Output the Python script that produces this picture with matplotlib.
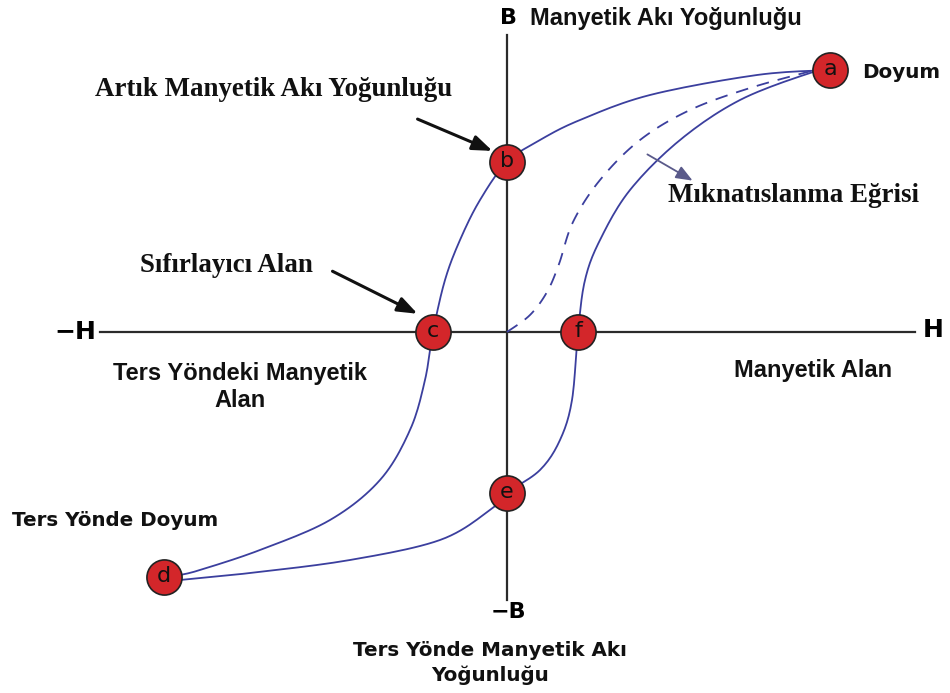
import numpy as np
import matplotlib
matplotlib.use("Agg")
import matplotlib.pyplot as plt

# ---- data (H, B) in diagram units, origin at axis crossing ----
point_labels = ["a", "b", "c", "d", "e", "f"]
point_h = [323, 0, -74, -343, 0, 71]
point_b = [262, 170, 0, -245, -161, 0]

upper_h = [323, 250, 143, 73, 33, 0, -27, -47, -62, -74, -82, -97, -127, -177, -247, -307, -327]
upper_b = [262, 257, 237, 212, 192, 170, 132, 92, 52, 0, -48, -98, -148, -188, -218, -238, -243]

lower_h = [-327, -257, -157, -67, -17, 0, 33, 53, 65, 71, 78, 93, 123, 173, 233, 303, 323]
lower_b = [-248, -241, -228, -208, -178, -161, -138, -108, -68, 0, 52, 92, 142, 192, 232, 259, 262]

virgin_h = [0, 23, 40, 52, 66, 93, 133, 183, 243, 308]
virgin_b = [0, 17, 40, 68, 110, 152, 192, 222, 244, 262]

h_axis = [-407, 408]
b_axis = [-268, 297]

curve_color = "#3b3f9e"
axis_color = "#2b2b2b"
marker_color = "#d3262a"


def smooth(xs, ys, n=12):
    p = np.column_stack([xs, ys]).astype(float)
    p = np.vstack([p[0], p, p[-1]])
    out = []
    for i in range(1, len(p) - 2):
        p0, p1, p2, p3 = p[i - 1], p[i], p[i + 1], p[i + 2]
        for t in np.linspace(0, 1, n, endpoint=False):
            t2, t3 = t * t, t * t * t
            out.append(0.5 * ((2 * p1) + (-p0 + p2) * t + (2 * p0 - 5 * p1 + 4 * p2 - p3) * t2
                              + (-p0 + 3 * p1 - 3 * p2 + p3) * t3))
    out.append(p[-2])
    out = np.array(out)
    return out[:, 0], out[:, 1]


plt.rcParams['font.family'] = ['Liberation Sans', 'DejaVu Sans']

fig = plt.figure(figsize=(9.5, 6.93), dpi=100)
ax = fig.add_axes([0, 0, 1, 1])
ax.set_xlim(-507, 443)
ax.set_ylim(-361, 332)
ax.axis("off")

# axes
ax.plot(h_axis, [0, 0], color=axis_color, lw=1.6, zorder=1)
ax.plot([0, 0], b_axis, color=axis_color, lw=1.6, zorder=1)

# curves
ux, uy = smooth(upper_h, upper_b)
ax.plot(ux, uy, color=curve_color, lw=1.3, zorder=2)
lx, ly = smooth(lower_h, lower_b)
ax.plot(lx, ly, color=curve_color, lw=1.3, zorder=2)
vx, vy = smooth(virgin_h, virgin_b)
ax.plot(vx, vy, color=curve_color, lw=1.3, ls=(0, (7, 5)), zorder=2)

# markers
ax.scatter(point_h, point_b, s=640, color=marker_color, edgecolors="#222222", linewidths=1.2, zorder=4)
for lab, h, b in zip(point_labels, point_h, point_b):
    ax.text(h, b + 1, lab, ha="center", va="center", fontsize=16, color="#111111",
            family=["DejaVu Sans"], zorder=5)

narrow_bold = dict(fontweight="bold", fontsize=17, color="#111111", family=["Liberation Sans", "DejaVu Sans"])
wide_bold = dict(fontweight="bold", fontsize=14.3, color="#111111", family=["DejaVu Sans"])
serif_bold = dict(fontweight="bold", fontsize=19.4, color="#111111", family=["Liberation Serif", "DejaVu Serif"])

# axis end labels
ax.text(1, 314, "B", ha="center", va="center", fontsize=16, fontweight="bold", family=["DejaVu Sans"])
ax.text(23, 314, "Manyetik Akı Yoğunluğu", ha="left", va="center", **narrow_bold)
ax.text(1, -280, "−B", ha="center", va="center", fontsize=16, fontweight="bold", family=["DejaVu Sans"])
ax.text(-432, 0, "−H", ha="center", va="center", fontsize=18, fontweight="bold", family=["DejaVu Sans"])
ax.text(426, 2, "H", ha="center", va="center", fontsize=18, fontweight="bold", family=["DejaVu Sans"])

ax.text(355, 260, "Doyum", ha="left", va="center", **wide_bold)
ax.text(306, -38, "Manyetik Alan", ha="center", va="center", **narrow_bold)
ax.text(-267, -55, "Ters Yöndeki Manyetik\nAlan", ha="center", va="center", linespacing=1.2, **narrow_bold)
ax.text(-495, -188, "Ters Yönde Doyum", ha="left", va="center", **wide_bold)
ax.text(-17, -331, "Ters Yönde Manyetik Akı\nYoğunluğu", ha="center", va="center", linespacing=1.3, **wide_bold)

ax.text(-233, 242, "Artık Manyetik Akı Yoğunluğu", ha="center", va="center", **serif_bold)
ax.text(-367, 67, "Sıfırlayıcı Alan", ha="left", va="center", **serif_bold)
ax.text(161, 137, "Mıknatıslanma Eğrisi", ha="left", va="center", **serif_bold)

# arrows
ax.annotate("", xy=(-12, 180), xytext=(-92, 214),
            arrowprops=dict(arrowstyle="-|>,head_length=1.2,head_width=0.45", color="#111111", lw=2.2))
ax.annotate("", xy=(-87, 17), xytext=(-177, 62),
            arrowprops=dict(arrowstyle="-|>,head_length=1.2,head_width=0.45", color="#111111", lw=2.2))
ax.annotate("", xy=(188, 150), xytext=(138, 179),
            arrowprops=dict(arrowstyle="-|>,head_length=1.0,head_width=0.4", color="#5a5a8a", lw=1.3))

fig.savefig("out.png", dpi=100)
